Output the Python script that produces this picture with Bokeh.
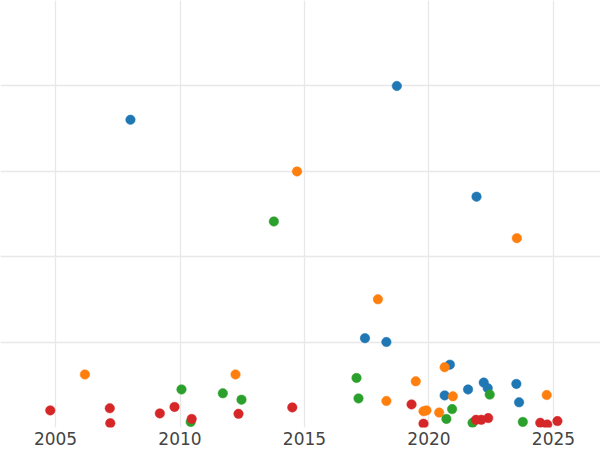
from bokeh.plotting import figure
from bokeh.models import FixedTicker
from bokeh.embed import file_html
from bokeh.resources import INLINE

# Data (year, value) per series
blue_x = [2008.01, 2018.71, 2021.91, 2017.43, 2018.29, 2020.84, 2020.63, 2021.57, 2022.20, 2022.36, 2023.51, 2023.62]
blue_y = [72.0, 79.9, 54.0, 20.9, 20.0, 14.7, 7.5, 8.9, 10.5, 9.2, 10.2, 5.9]

orange_x = [2006.18, 2012.23, 2014.70, 2017.95, 2018.29, 2019.47, 2019.78, 2019.90, 2020.41, 2020.63, 2020.96, 2023.53, 2024.73]
orange_y = [12.4, 12.4, 59.9, 30.0, 6.2, 10.8, 3.8, 4.0, 3.5, 14.1, 7.3, 44.3, 7.6]

green_x = [2010.06, 2010.43, 2011.72, 2012.47, 2013.77, 2017.09, 2017.17, 2020.70, 2020.93, 2021.75, 2022.44, 2023.77]
green_y = [8.9, 1.3, 8.0, 6.5, 48.2, 11.6, 6.8, 2.0, 4.3, 1.1, 7.7, 1.3]

red_x = [2004.79, 2007.18, 2007.20, 2009.19, 2009.78, 2010.47, 2012.35, 2014.51, 2019.30, 2019.78, 2021.89, 2022.10, 2022.38, 2024.47, 2024.75, 2025.16]
red_y = [4.0, 4.5, 1.0, 3.3, 4.8, 2.0, 3.2, 4.7, 5.4, 0.9, 1.8, 1.8, 2.2, 1.1, 0.7, 1.5]

x_ticks = [2005, 2010, 2015, 2020, 2025]
y_ticks = [0, 20, 40, 60, 80]

series = [
    (blue_x, blue_y, "#1f77b4"),
    (orange_x, orange_y, "#ff7f0e"),
    (green_x, green_y, "#2ca02c"),
    (red_x, red_y, "#d62728"),
]

p = figure(frame_width=600, frame_height=427, output_backend="svg", toolbar_location=None,
           x_range=(2002.79, 2026.89), y_range=(0, 99.9),
           min_border_left=0, min_border_right=0, min_border_top=0, min_border_bottom=0)
p.outline_line_color = None
p.background_fill_color = "white"

for xs, ys, c in series:
    p.scatter(xs, ys, size=9.5, fill_color=c, line_color=c, line_width=0.5)

p.xaxis.ticker = FixedTicker(ticks=x_ticks)
p.yaxis.ticker = FixedTicker(ticks=y_ticks)
p.yaxis.visible = False
p.xaxis.axis_line_color = None
p.xaxis.major_tick_line_color = None
p.xaxis.minor_tick_line_color = None
p.xaxis.major_tick_out = 0
p.xaxis.major_tick_in = 0
p.xaxis.major_label_text_font = "DejaVu Sans"
p.xaxis.major_label_text_font_size = "17px"
p.xaxis.major_label_text_color = "#444444"
p.xaxis.major_label_standoff = 4

p.xgrid.grid_line_color = "#e8e8e8"
p.ygrid.grid_line_color = "#e8e8e8"
p.xgrid.grid_line_width = 1.3
p.ygrid.grid_line_width = 1.3

open("out.html", "w").write(file_html(p, INLINE))
